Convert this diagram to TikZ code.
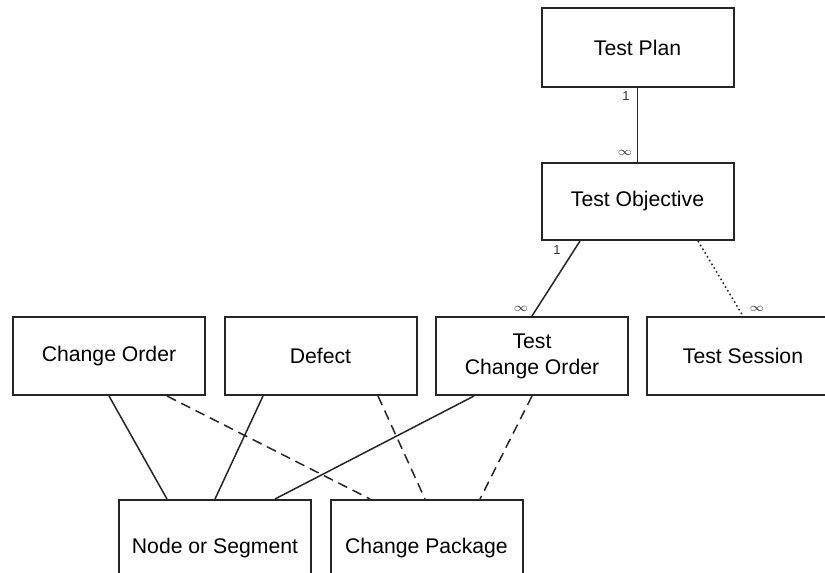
\documentclass[tikz,border=0pt]{standalone}
\usepackage{fontspec}
\setmainfont{Liberation Sans}
\usepackage{amsmath}
\usepackage{amssymb}

\begin{document}
\begin{tikzpicture}[x=0.5pt, y=-0.5pt,
    entity/.style={rectangle, draw=black!85, line width=1pt, fill=white, minimum width=96pt, minimum height=39pt, align=center, inner sep=0pt, font=\fontsize{10.6}{13}\selectfont},
    link/.style={draw=black!85, line width=0.75pt},
    optlink/.style={link, dash pattern=on 5pt off 3pt},
    weaklink/.style={link, dash pattern=on 0.8pt off 1.4pt},
    mult/.style={inner sep=0pt, font=\fontsize{6.5}{7}\selectfont, text=black!80}]
  \clip (0,0) rectangle (825,573);
  \fill[white] (0,0) rectangle (825,573);

  % upper chain
  \node[entity, minimum height=39.5pt] at (637.5,47.5) (plan) {Test Plan};
  \node[entity, minimum height=38.5pt] at (637.5,201.5) (objective) {Test Objective};

  % middle row
  \node[entity] at (109,356) (changeorder) {Change Order};
  \node[entity] at (320.5,356) (defect) {Defect};
  \node[entity] at (532,356) (testco) {Test\\Change Order};
  \node[entity] at (743,356) (session) {Test Session};

  % bottom row
  \node[entity, minimum height=48pt] at (215,548) (segment) {Node or Segment};
  \node[entity, minimum height=48pt] at (426.5,548) (package) {Change Package};

  % associations with multiplicities
  \draw[link] (plan.south) -- (objective.north);
  \node[mult] at (626,96) (m1) {1};
  \node[mult] at (625,153) (m2) {$\infty$};

  \draw[link] ([xshift=-28.75pt]objective.south) -- (testco.north);
  \node[mult] at (557,250) (m3) {1};
  \node[mult] at (521,309) (m4) {$\infty$};

  \draw[weaklink] ([xshift=30.25pt]objective.south) -- (session.north);
  \node[mult] at (757,309) (m5) {$\infty$};

  \draw[link] (changeorder.south) -- ([xshift=-24pt]segment.north);
  \draw[link] ([xshift=-28.75pt]defect.south) -- (segment.north);
  \draw[link] ([xshift=-29pt]testco.south) -- ([xshift=30pt]segment.north);

  \draw[optlink] ([xshift=29pt]changeorder.south) -- ([xshift=-28.25pt]package.north);
  \draw[optlink] ([xshift=28.75pt]defect.south) -- ([xshift=-0.75pt]package.north);
  \draw[optlink] (testco.south) -- ([xshift=26.75pt]package.north);
\end{tikzpicture}
\end{document}
